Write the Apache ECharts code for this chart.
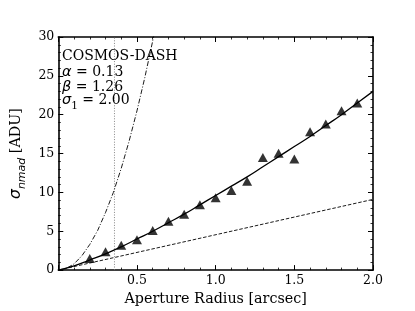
<!DOCTYPE html>
<html><head><meta charset="utf-8">
<script src="https://cdn.jsdelivr.net/npm/echarts@6/dist/echarts.min.js"></script>
<style>html,body{margin:0;padding:0;background:#fff}#c{width:415px;height:311px}</style>
</head><body><div id="c"></div>
<script>
// measured points
const radii = [0.2,0.3,0.4,0.5,0.6,0.7,0.8,0.9,1.0,1.1,1.2,1.3,1.4,1.5,1.6,1.7,1.8,1.9];
const sigmas = [1.5,2.35,3.2,3.9,5.1,6.3,7.2,8.4,9.3,10.25,11.45,14.5,15.05,14.3,17.8,18.8,20.5,21.5];
// fitted curve
const fitR = [0,0.1,0.2,0.3,0.4,0.5,0.6,0.7,0.8,0.9,1.0,1.1,1.2,1.3,1.4,1.5,1.6,1.7,1.8,1.9,2.0];
const fitV = [0,0.53,1.3,2.1,3.0,4.0,5.0,6.1,7.2,8.4,9.6,10.8,12.0,13.3,14.6,15.9,17.2,18.6,20.0,21.5,23.0];
// linear dashed line
const linR = [0,2.0];
const linV = [0,9.1];
// quadratic dash-dot curve
const quadR = [0,0.05,0.1,0.15,0.2,0.25,0.3,0.35,0.4,0.45,0.5,0.55,0.6,0.65];
const quadV = [0,0.2,0.8,1.85,3.3,5.1,7.4,10.0,13.1,16.6,20.5,24.8,29.5,34.6];
// vertical dotted line
const vR = [0.357,0.357];
const vV = [0,30];
const xTicks = [0.5,1.0,1.5,2.0];

const zip = (a,b)=>a.map((v,i)=>[v,b[i]]);
const serif = 'DejaVu Serif';
const axisBase = {
  type:'value', splitLine:{show:false},
  axisLine:{show:true,onZero:false,lineStyle:{color:'#000',width:1.6}},
  axisTick:{show:true,inside:true,length:5,lineStyle:{color:'#000',width:1}},
  minorTick:{show:true,splitNumber:5,length:2.5,lineStyle:{color:'#000',width:0.8}},
  minorSplitLine:{show:false}
};
const chart = echarts.init(document.getElementById('c'),null,{renderer:'canvas'});
chart.setOption({
  animation:false,
  grid:{left:52,right:42,top:37,bottom:35,containLabel:false},
  xAxis:[
    Object.assign({},axisBase,{min:0,max:2,interval:0.5,position:'bottom',
      axisLabel:{showMinLabel:false,margin:4,color:'#000',fontFamily:serif,fontSize:12.5,
        formatter:v=>xTicks.indexOf(v)>=0?v.toFixed(1):''},
      name:'Aperture Radius [arcsec]',nameLocation:'middle',nameGap:13,
      nameTextStyle:{color:'#000',fontFamily:serif,fontSize:14.3}}),
    Object.assign({},axisBase,{min:0,max:2,interval:0.5,position:'top',axisLabel:{show:false}})
  ],
  yAxis:[
    Object.assign({},axisBase,{min:0,max:30,interval:5,position:'left',
      axisLabel:{margin:4,color:'#000',fontFamily:serif,fontSize:12.5},
      name:'{s|σ}{sub|nmad} {t|[ADU]}',nameLocation:'middle',nameGap:21,nameRotate:90,
      nameTextStyle:{color:'#000',fontFamily:serif,fontSize:14.3,
        rich:{
          s:{fontFamily:'DejaVu Sans',fontStyle:'italic',fontSize:15.5,lineHeight:17,verticalAlign:'middle',color:'#000'},
          sub:{fontFamily:'DejaVu Sans',fontStyle:'italic',fontSize:11,lineHeight:17,verticalAlign:'bottom',padding:[0,0,-3,0],color:'#000'},
          t:{fontFamily:serif,fontSize:14.3,lineHeight:17,verticalAlign:'middle',color:'#000'}
        }}}),
    Object.assign({},axisBase,{min:0,max:30,interval:5,position:'right',axisLabel:{show:false}})
  ],
  series:[
    {type:'line',data:zip(vR,vV),showSymbol:false,symbol:'none',
      lineStyle:{color:'#777',width:0.9,type:[1,1.6]},z:1},
    {type:'line',data:zip(linR,linV),showSymbol:false,symbol:'none',
      lineStyle:{color:'#000',width:0.9,type:[3.5,1.8]},z:2},
    {type:'line',data:zip(quadR,quadV),showSymbol:false,symbol:'none',smooth:false,clip:true,
      lineStyle:{color:'#000',width:0.9,type:[5,1.8,1,1.8]},z:2},
    {type:'line',data:zip(fitR,fitV),showSymbol:false,symbol:'none',smooth:true,
      lineStyle:{color:'#000',width:1.3},z:3},
    {type:'scatter',data:zip(radii,sigmas),symbol:'triangle',symbolSize:[10,9],
      itemStyle:{color:'#000'},z:4}
  ],
  graphic:[
    {type:'text',left:62,top:49,style:{text:'COSMOS-DASH',font:'14px "DejaVu Serif"',fill:'#000'}},
    {type:'text',left:62,top:65,style:{text:'{g|α}{t| = 0.13}',fill:'#000',
      rich:{g:{fontFamily:'DejaVu Sans',fontStyle:'italic',fontSize:14.5},t:{fontFamily:serif,fontSize:14}}}},
    {type:'text',left:62,top:80,style:{text:'{g|β}{t| = 1.26}',fill:'#000',
      rich:{g:{fontFamily:'DejaVu Sans',fontStyle:'italic',fontSize:14.5},t:{fontFamily:serif,fontSize:14}}}},
    {type:'text',left:62,top:93,style:{text:'{g|σ}{sb|1}{t| = 2.00}',fill:'#000',
      rich:{g:{fontFamily:'DejaVu Sans',fontStyle:'italic',fontSize:14.5,lineHeight:16,verticalAlign:'middle'},
        sb:{fontFamily:serif,fontSize:10.5,lineHeight:16,verticalAlign:'bottom',padding:[0,0,-3,0]},
        t:{fontFamily:serif,fontSize:14,lineHeight:16,verticalAlign:'middle'}}}}
  ]
});
</script></body></html>
